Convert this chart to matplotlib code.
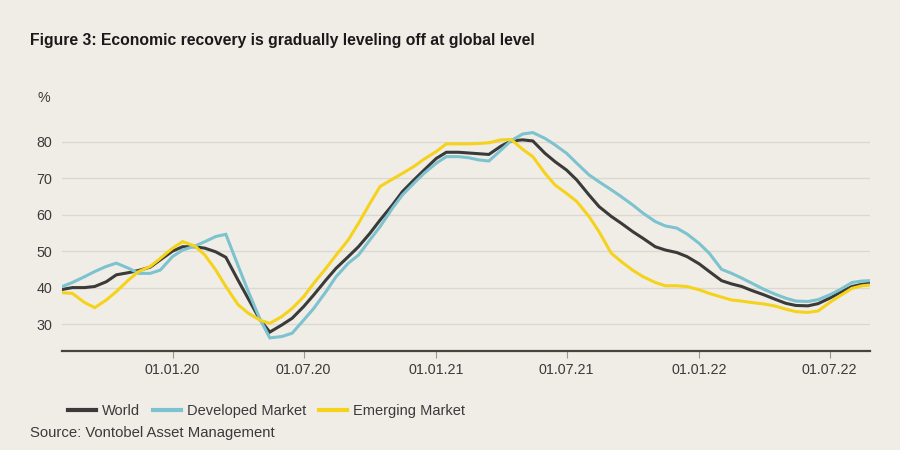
import matplotlib
matplotlib.use("Agg")
import matplotlib.pyplot as plt
import matplotlib.dates as mdates
import pandas as pd

dates = [
    "2019-08-01", "2019-08-15", "2019-09-01", "2019-09-15", "2019-10-01", "2019-10-15",
    "2019-11-01", "2019-11-15", "2019-12-01", "2019-12-15", "2020-01-01", "2020-01-15",
    "2020-02-01", "2020-02-15", "2020-03-01", "2020-03-15", "2020-04-01", "2020-04-15",
    "2020-05-01", "2020-05-15", "2020-06-01", "2020-06-15", "2020-07-01", "2020-07-15",
    "2020-08-01", "2020-08-15", "2020-09-01", "2020-09-15", "2020-10-01", "2020-10-15",
    "2020-11-01", "2020-11-15", "2020-12-01", "2020-12-15", "2021-01-01", "2021-01-15",
    "2021-02-01", "2021-02-15", "2021-03-01", "2021-03-15", "2021-04-01", "2021-04-15",
    "2021-05-01", "2021-05-15", "2021-06-01", "2021-06-15", "2021-07-01", "2021-07-15",
    "2021-08-01", "2021-08-15", "2021-09-01", "2021-09-15", "2021-10-01", "2021-10-15",
    "2021-11-01", "2021-11-15", "2021-12-01", "2021-12-15", "2022-01-01", "2022-01-15",
    "2022-02-01", "2022-02-15", "2022-03-01", "2022-03-15", "2022-04-01", "2022-04-15",
    "2022-05-01", "2022-05-15", "2022-06-01", "2022-06-15", "2022-07-01", "2022-07-15",
    "2022-08-01", "2022-08-15", "2022-08-26",
]

world = [
    39.5, 40.0, 40.0, 40.3, 41.6, 43.5, 44.1, 44.7, 45.6, 47.6, 50.0, 51.2,
    51.2, 50.8, 49.8, 48.3, 42.0, 37.0, 31.3, 27.8, 29.8, 31.6, 34.8, 38.0,
    42.1, 45.3, 48.5, 51.2, 54.9, 58.5, 62.6, 66.3, 69.5, 72.2, 75.4, 77.1,
    77.1, 76.9, 76.7, 76.5, 78.8, 80.2, 80.5, 80.2, 76.8, 74.5, 72.2, 69.5,
    65.4, 62.2, 59.5, 57.6, 55.3, 53.5, 51.2, 50.3, 49.6, 48.5, 46.5, 44.4,
    41.9, 41.0, 40.3, 39.2, 38.0, 36.9, 35.7, 35.1, 35.0, 35.6, 37.1, 38.6,
    40.3, 40.9, 41.2,
]

developed = [
    40.3, 41.4, 43.0, 44.4, 45.8, 46.7, 45.3, 43.9, 43.9, 44.8, 48.5, 50.3,
    51.4, 52.6, 54.0, 54.6, 46.0, 39.0, 31.5, 26.2, 26.6, 27.5, 31.1, 34.3,
    38.9, 43.0, 46.7, 48.9, 53.1, 56.7, 61.7, 65.4, 68.6, 71.3, 74.1, 75.9,
    75.9, 75.6, 75.0, 74.7, 77.7, 80.3, 82.1, 82.5, 80.9, 79.1, 76.8, 74.1,
    70.9, 69.0, 66.8, 64.9, 62.6, 60.4, 58.1, 56.9, 56.3, 54.7, 52.1, 49.4,
    45.0, 43.9, 42.6, 41.2, 39.5, 38.3, 37.1, 36.3, 36.2, 36.7, 38.0, 39.4,
    41.4, 41.8, 41.9,
]

emerging = [
    38.6, 38.4, 35.9, 34.5, 36.6, 38.9, 42.1, 44.4, 45.8, 48.0, 50.8, 52.6,
    51.4, 48.9, 44.8, 40.3, 35.3, 33.0, 31.1, 30.2, 32.1, 34.3, 37.5, 41.2,
    45.3, 48.9, 53.1, 57.6, 63.1, 67.7, 69.7, 71.3, 73.2, 75.2, 77.3, 79.4,
    79.4, 79.4, 79.5, 79.7, 80.5, 80.6, 77.9, 75.9, 71.3, 68.1, 65.8, 63.6,
    59.5, 55.3, 49.4, 47.1, 44.7, 43.0, 41.4, 40.5, 40.5, 40.3, 39.4, 38.4,
    37.4, 36.6, 36.3, 35.9, 35.5, 35.0, 34.1, 33.4, 33.2, 33.6, 35.9, 37.7,
    39.8, 40.5, 40.7,
]

y_ticks = [30, 40, 50, 60, 70, 80]
x_tick_dates = ["2020-01-01", "2020-07-01", "2021-01-01", "2021-07-01", "2022-01-01", "2022-07-01"]
series_names = ["World", "Developed Market", "Emerging Market"]

BG = "#f0ede7"
colors = ["#3a3a38", "#7cc3cf", "#f5d21c"]
FONT = ["Liberation Sans", "DejaVu Sans"]
plt.rcParams["font.family"] = FONT

fig = plt.figure(figsize=(9, 4.5), dpi=100, facecolor=BG)
ax = fig.add_axes([62.3 / 900, 99.3 / 450, (870 - 62.3) / 900, (350.7 - 105.2) / 450])
ax.set_facecolor(BG)

x = pd.to_datetime(dates)
for name, vals, c in zip(series_names, [world, developed, emerging], colors):
    ax.plot(x, vals, color=c, lw=2.2, label=name, solid_joinstyle="miter")

ax.set_xlim(x[0], x[-1])
ax.set_ylim(22.7, 90)
ax.set_yticks(y_ticks)
ax.grid(axis="y", color="#dcd8d0", lw=1)
ax.set_axisbelow(True)
for s in ["top", "right", "left"]:
    ax.spines[s].set_visible(False)
ax.spines["bottom"].set_color("#47443f")
ax.spines["bottom"].set_linewidth(1.6)

ax.set_xticks(pd.to_datetime(x_tick_dates))
ax.xaxis.set_major_formatter(mdates.DateFormatter("%d.%m.%y"))
ax.tick_params(axis="x", length=5, width=0.8, color="#9a9790", pad=4,
               labelsize=10.3, labelcolor="#3a3a3a")
ax.tick_params(axis="y", length=0, pad=7, labelsize=10.3, labelcolor="#3a3a3a")

fig.text(38 / 900, 1 - 98 / 450, "%", fontsize=10.3, color="#3a3a3a", va="center", ha="left")
fig.text(30 / 900, 1 - 40 / 450,
         "Figure 3: Economic recovery is gradually leveling off at global level",
         fontsize=11.3, fontweight="bold", color="#1a1a1a", va="center", ha="left")

leg = fig.legend(loc="center left", bbox_to_anchor=(68 / 900, 1 - 411 / 450), ncol=3,
                 frameon=False, fontsize=10.5, handlelength=1.95, handletextpad=0.4,
                 columnspacing=0.85, borderpad=0, borderaxespad=0)
for line in leg.get_lines():
    line.set_linewidth(3)
for t in leg.get_texts():
    t.set_color("#3a3a3a")

fig.text(30 / 900, 1 - 433 / 450, "Source: Vontobel Asset Management",
         fontsize=10.7, color="#3a3a3a", va="center", ha="left")

fig.savefig("out.png", dpi=100, facecolor=BG)
